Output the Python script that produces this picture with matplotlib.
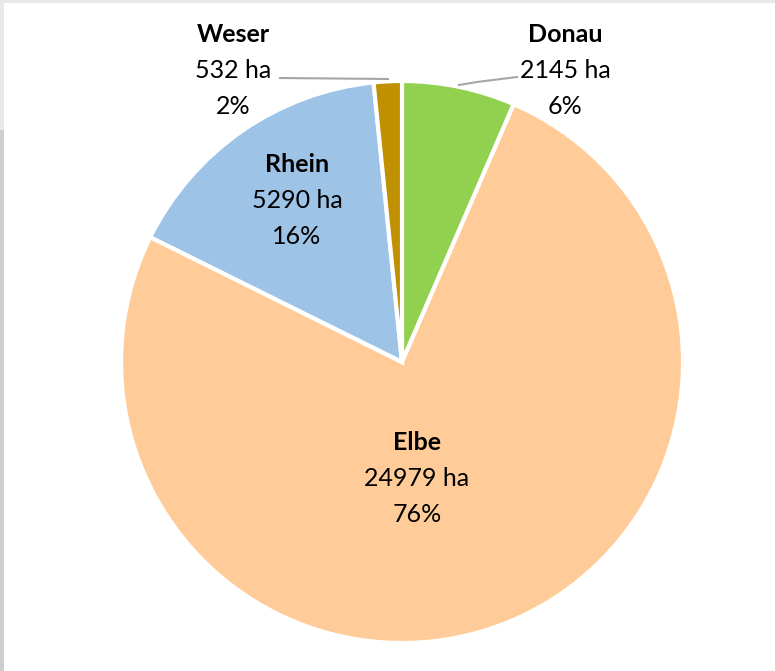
import matplotlib.pyplot as plt
from matplotlib.patches import Rectangle

rivers = ["Donau", "Elbe", "Rhein", "Weser"]
area_ha = [2145, 24979, 5290, 532]
pct_labels = ["6%", "76%", "16%", "2%"]
colors = ["#92D050", "#FFCC99", "#9DC3E6", "#BF9000"]

W, H = 775, 671

fig = plt.figure(figsize=(W / 100, H / 100), dpi=100, facecolor="#e6e8e9")
ax = fig.add_axes([0, 0, 1, 1])
ax.set_xlim(0, W)
ax.set_ylim(0, H)
ax.axis("off")

# white canvas, leaves a thin grey strip on top and left
ax.add_patch(Rectangle((0, 0), 4, H - 130, facecolor="#c9cfd3", edgecolor="none", zorder=0))
ax.add_patch(Rectangle((4, 0), W - 4, H - 3, facecolor="white", edgecolor="none", zorder=0))


def py(y):
    return H - y


ax.pie(area_ha, colors=colors, startangle=90, counterclock=False,
       center=(402, py(362)), radius=281,
       wedgeprops={"edgecolor": "white", "linewidth": 3})
ax.set_xlim(0, W)
ax.set_ylim(0, H)

font = "Lato"
label_pos = {"Donau": (565, 35), "Elbe": (417, 443), "Rhein": (297, 165), "Weser": (233, 35)}
for name, val, pct in zip(rivers, area_ha, pct_labels):
    x, y = label_pos[name]
    ax.text(x, py(y), name, ha="center", va="center", fontsize=18,
            fontweight="bold", family=font)
    ax.text(x, py(y + 36), f"{val} ha", ha="center", va="center", fontsize=18, family=font)
    ax.text(x, py(y + 71), pct, ha="center", va="center", fontsize=18, family=font)

# leader lines
ax.plot([280, 388], [py(78), py(79)], color="#a6a6a6", lw=1.5)
ax.plot([459, 477, 517], [py(85), py(82), py(77)], color="#a6a6a6", lw=1.5)

fig.savefig("out.png", dpi=100, facecolor=fig.get_facecolor())
